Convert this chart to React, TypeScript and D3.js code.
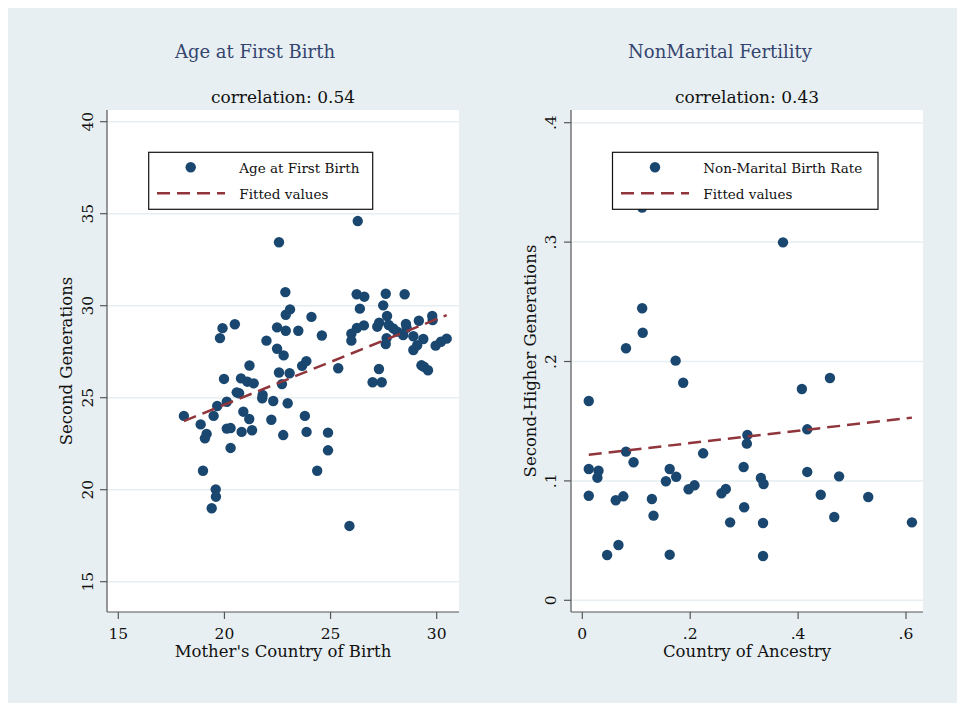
import React from "react";
import * as d3 from "d3";

// ---- Data: Age at First Birth (mother's country vs second generation)
const ageX = [22.57,26.28,22.87,23.09,22.89,24.10,19.91,20.49,19.79,22.48,
  22.89,23.48,24.59,21.98,22.48,22.79,21.18,23.66,23.86,22.57,
  23.07,19.98,20.78,21.08,21.38,26.23,26.59,27.60,28.49,26.38,
  27.48,27.66,26.57,26.24,25.98,25.98,27.20,27.29,27.74,27.95,
  28.14,28.55,28.58,28.42,28.90,29.16,29.79,29.81,29.37,29.08,
  28.90,27.64,27.60,29.95,30.20,30.47,25.36,27.28,29.28,29.40,
  29.59,26.98,27.41,22.71,20.58,20.69,21.80,21.78,22.30,22.98,
  20.11,19.66,18.09,19.49,20.89,21.17,22.21,23.79,18.88,19.16,
  19.08,20.11,20.29,20.81,21.30,22.77,23.87,24.88,20.29,24.88,
  18.99,24.37,19.59,19.60,19.40,25.89];
const ageY = [33.45,34.60,30.74,29.80,29.51,29.39,28.78,28.99,28.24,28.82,
  28.64,28.64,28.38,28.10,27.66,27.30,26.75,26.73,26.99,26.37,
  26.33,26.02,26.05,25.87,25.78,30.62,30.49,30.65,30.62,29.84,
  30.02,29.44,28.93,28.79,28.48,28.10,28.86,29.08,28.95,28.77,
  28.59,29.01,28.80,28.41,28.34,29.18,29.44,29.22,28.19,27.85,
  27.59,28.24,27.92,27.83,28.04,28.21,26.60,26.56,26.76,26.68,
  26.49,25.84,25.84,25.74,25.29,25.24,25.15,24.97,24.82,24.70,
  24.78,24.55,24.01,24.01,24.24,23.84,23.80,24.01,23.55,23.03,
  22.79,23.32,23.35,23.14,23.23,22.97,23.14,23.10,22.27,22.14,
  21.03,21.03,20.02,19.62,18.99,18.03];
// fitted values: endpoints [x, yhat]
const ageFitX = [18.09, 30.47];
const ageFitY = [23.73, 29.49];

// ---- Data: Non-Marital Fertility (country of ancestry vs second-higher generations)
const nmX = [0.111,0.111,0.112,0.081,0.173,0.187,0.012,0.306,0.305,0.081,
  0.224,0.095,0.012,0.030,0.028,0.162,0.174,0.155,0.299,0.197,
  0.208,0.012,0.062,0.076,0.129,0.132,0.258,0.266,0.300,0.274,
  0.046,0.067,0.162,0.372,0.459,0.407,0.417,0.331,0.336,0.417,
  0.476,0.442,0.530,0.335,0.467,0.611,0.335];
const nmY = [0.329,0.2446,0.2241,0.2111,0.2007,0.1822,0.1669,0.1384,0.1312,0.1245,
  0.1231,0.1156,0.1100,0.1085,0.1027,0.1100,0.1035,0.0997,0.1116,0.0930,
  0.0963,0.0876,0.0838,0.0871,0.0848,0.0709,0.0896,0.0932,0.0779,0.0653,
  0.0379,0.0463,0.0382,0.2998,0.1862,0.1770,0.1432,0.1024,0.0974,0.1075,
  0.1038,0.0884,0.0865,0.0647,0.0698,0.0653,0.0371];
const nmFitX = [0.012, 0.611];
const nmFitY = [0.1219, 0.1530];

// ---- Ticks & labels
const ageXTicks = [15, 20, 25, 30];
const ageXTickLabels = ["15", "20", "25", "30"];
const ageYTicks = [15, 20, 25, 30, 35, 40];
const ageYTickLabels = ["15", "20", "25", "30", "35", "40"];
const nmXTicks = [0, 0.2, 0.4, 0.6];
const nmXTickLabels = ["0", ".2", ".4", ".6"];
const nmYTicks = [0, 0.1, 0.2, 0.3, 0.4];
const nmYTickLabels = ["0", ".1", ".2", ".3", ".4"];

const FONT = "'DejaVu Serif', serif";
const BG = "#e8eff2";
const GRID = "#e6eef1";
const NAVY = "#1a476f";
const MAROON = "#90353b";
const TITLE = "#34456f";

type PanelProps = {
  xs: number[]; ys: number[];
  fitX: number[]; fitY: number[];
  xDomain: [number, number]; xRange: [number, number];
  yDomain: [number, number]; yRange: [number, number];
  plot: { x: number; y: number; w: number; h: number };
  xTicks: number[]; xTickLabels: string[];
  yTicks: number[]; yTickLabels: string[];
  title: string; titleX: number; subtitle: string;
  xTitle: string; yTitle: string;
  yTickLabelX: number; yTitleX: number;
  legendLabel: string;
  legend: { x: number; y: number; w: number; h: number; mx: number; lx0: number; lx1: number; tx: number };
};

function Panel(p: PanelProps) {
  const x = d3.scaleLinear().domain(p.xDomain).range(p.xRange);
  const y = d3.scaleLinear().domain(p.yDomain).range(p.yRange);
  const line = d3.line<number>().x(i => x(p.fitX[i])).y(i => y(p.fitY[i]));
  const { plot, legend } = p;
  const bottom = plot.y + plot.h;
  const cx = plot.x + plot.w / 2;
  const cy = plot.y + plot.h / 2;
  return (
    <g fontFamily={FONT}>
      <text x={p.titleX} y={58} textAnchor="middle" fontSize={18} fill={TITLE}>{p.title}</text>
      <text x={cx} y={103} textAnchor="middle" fontSize={17} fill="#111">{p.subtitle}</text>
      <rect x={plot.x} y={plot.y} width={plot.w} height={plot.h} fill="#fff" />
      {p.yTicks.map(t => (
        <line key={"g" + t} x1={plot.x} x2={plot.x + plot.w} y1={y(t)} y2={y(t)} stroke={GRID} strokeWidth={1.5} />
      ))}
      {p.xs.map((v, i) => (
        <circle key={i} cx={x(v)} cy={y(p.ys[i])} r={5.2} fill={NAVY} />
      ))}
      <path d={line(p.fitX.map((_, i) => i)) || ""} fill="none" stroke={MAROON} strokeWidth={2.5} strokeDasharray="13 7" />
      {/* axes */}
      <line x1={plot.x} x2={plot.x} y1={plot.y} y2={bottom} stroke="#555" strokeWidth={1.2} />
      <line x1={plot.x} x2={plot.x + plot.w} y1={bottom} y2={bottom} stroke="#555" strokeWidth={1.2} />
      {p.yTicks.map((t, i) => (
        <g key={"yt" + t}>
          <line x1={plot.x - 7} x2={plot.x} y1={y(t)} y2={y(t)} stroke="#555" strokeWidth={1.2} />
          <text transform={`translate(${p.yTickLabelX},${y(t)}) rotate(-90)`} textAnchor="middle" dy="0.35em" fontSize={15.5} fill="#111">{p.yTickLabels[i]}</text>
        </g>
      ))}
      {p.xTicks.map((t, i) => (
        <g key={"xt" + t}>
          <line x1={x(t)} x2={x(t)} y1={bottom} y2={bottom + 7} stroke="#555" strokeWidth={1.2} />
          <text x={x(t)} y={639} textAnchor="middle" fontSize={15.5} fill="#111">{p.xTickLabels[i]}</text>
        </g>
      ))}
      <text x={cx} y={657} textAnchor="middle" fontSize={16.5} fill="#111">{p.xTitle}</text>
      <text transform={`translate(${p.yTitleX},${cy}) rotate(-90)`} textAnchor="middle" dy="0.35em" fontSize={16.5} fill="#111">{p.yTitle}</text>
      {/* legend */}
      <rect x={legend.x} y={legend.y} width={legend.w} height={legend.h} fill="#fff" stroke="#111" strokeWidth={1.2} />
      <circle cx={legend.mx} cy={legend.y + 15} r={5.2} fill={NAVY} />
      <line x1={legend.lx0} x2={legend.lx1} y1={legend.y + 41} y2={legend.y + 41} stroke={MAROON} strokeWidth={2.5} strokeDasharray="13 7" />
      <text x={legend.tx} y={legend.y + 21} fontSize={13.5} fill="#111">{p.legendLabel}</text>
      <text x={legend.tx} y={legend.y + 47} fontSize={13.5} fill="#111">Fitted values</text>
    </g>
  );
}

export default function App() {
  return (
    <>
      <style>{`html{overflow:hidden} body{margin:0}`}</style>
      <svg width={949} height={695} style={{ display: "block", margin: "8px 0 0 8px" }}>
        <g transform="translate(-8,-8)">
          <rect x={8} y={8} width={949} height={695} fill={BG} />
          <Panel
            xs={ageX} ys={ageY} fitX={ageFitX} fitY={ageFitY}
            xDomain={[15, 30]} xRange={[118.3, 436.7]}
            yDomain={[15, 40]} yRange={[581.7, 121.7]}
            plot={{ x: 107, y: 110, w: 352, h: 502 }}
            xTicks={ageXTicks} xTickLabels={ageXTickLabels}
            yTicks={ageYTicks} yTickLabels={ageYTickLabels}
            title="Age at First Birth" titleX={255} subtitle="correlation: 0.54"
            xTitle="Mother's Country of Birth" yTitle="Second Generations"
            yTickLabelX={88} yTitleX={66}
            legendLabel="Age at First Birth"
            legend={{ x: 148.7, y: 152.3, w: 224, h: 57, mx: 190.7, lx0: 157, lx1: 225, tx: 239.3 }}
          />
          <Panel
            xs={nmX} ys={nmY} fitX={nmFitX} fitY={nmFitY}
            xDomain={[0, 0.6]} xRange={[582.3, 906]}
            yDomain={[0, 0.4]} yRange={[600.3, 122.7]}
            plot={{ x: 571, y: 110, w: 352, h: 502 }}
            xTicks={nmXTicks} xTickLabels={nmXTickLabels}
            yTicks={nmYTicks} yTickLabels={nmYTickLabels}
            title="NonMarital Fertility" titleX={720} subtitle="correlation: 0.43"
            xTitle="Country of Ancestry" yTitle="Second-Higher Generations"
            yTickLabelX={551} yTitleX={530}
            legendLabel="Non-Marital Birth Rate"
            legend={{ x: 612.5, y: 152.3, w: 265.5, h: 57, mx: 655, lx0: 621, lx1: 689, tx: 703.3 }}
          />
        </g>
      </svg>
    </>
  );
}
